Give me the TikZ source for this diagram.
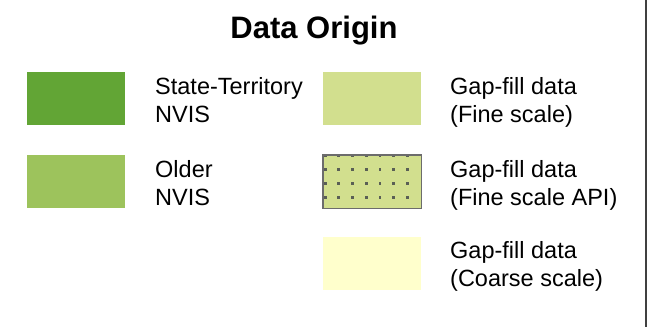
\documentclass[tikz,border=0pt]{standalone}
\usepackage{fontspec}
\setmainfont{Liberation Sans}
\definecolor{cState}{RGB}{98,165,53}
\definecolor{cOlder}{RGB}{157,195,92}
\definecolor{cFine}{RGB}{210,223,142}
\definecolor{cCoarse}{RGB}{255,255,204}
\definecolor{cDot}{RGB}{90,95,85}
\definecolor{cEdge}{RGB}{64,64,64}
\begin{document}
\begin{tikzpicture}[x=1pt,y=-1pt,
  swatch/.style={draw=none,minimum width=98pt,minimum height=53pt,inner sep=0pt,anchor=north west},
  lbl/.style={anchor=base west,align=left,inner sep=0pt,font=\fontsize{23.5}{28}\selectfont},
  ttl/.style={inner sep=0pt,anchor=base,font=\fontsize{31}{36}\selectfont\bfseries}]
\useasboundingbox (0,0) rectangle (651,327);
\fill[white] (0,0) rectangle (651,327);
\draw[cEdge,line width=2pt] (646,0) -- (646,327);
\node[ttl] (title) at (314,38) {Data Origin};
\node[swatch,fill=cState] (s1) at (27,72) {};
\node[swatch,fill=cOlder] (s2) at (27,155) {};
\node[swatch,fill=cFine] (s3) at (323,72) {};
\node[swatch,fill=cFine] (s4) at (323,155) {};
\node[swatch,fill=cCoarse] (s5) at (323,237) {};
\foreach \r in {0,1,2,3}{
  \foreach \c in {0,...,6}{
    \fill[cDot] ({325+13.7*\c-1.3},{155+14*\r-1.3}) rectangle ++(2.8,2.8);
  }
}
\draw[gray!85!black,line width=1.4pt] (s4.north west) rectangle (s4.south east);
\node[lbl] (t1) at (155,122) {State-Territory\\NVIS};
\node[lbl] (t2) at (155,205) {Older\\NVIS};
\node[lbl] (t3) at (450,122) {Gap-fill data\\(Fine scale)};
\node[lbl] (t4) at (450,205) {Gap-fill data\\(Fine scale API)};
\node[lbl] (t5) at (450,286) {Gap-fill data\\(Coarse scale)};
\end{tikzpicture}
\end{document}
